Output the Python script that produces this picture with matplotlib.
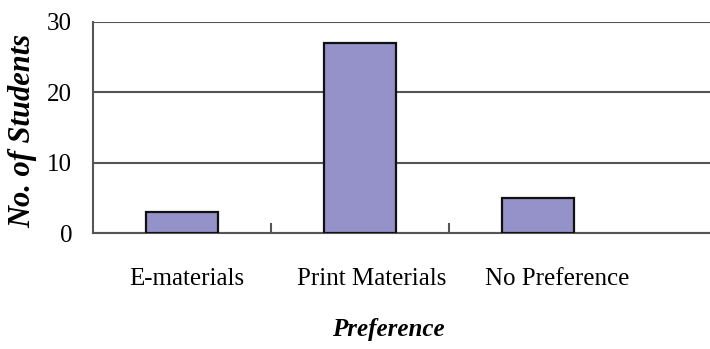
import matplotlib.pyplot as plt
import matplotlib.transforms as mtransforms
import numpy as np

categories = ["E-materials", "Print Materials", "No Preference"]
students = [3, 27, 5]
y_ticks = [0, 10, 20, 30]

plt.rcParams['font.family'] = ['Liberation Serif', 'DejaVu Serif']

fig = plt.figure(figsize=(7.1, 3.49), dpi=100)
ax = fig.add_axes([0.131, 0.332, 0.869, 0.605])

x = np.arange(len(categories))
ax.bar(x, students, width=0.4, color='#9592c9', edgecolor='#111111',
       linewidth=1.6, zorder=3)

ax.set_ylim(0, 30)
ax.set_xlim(-0.5, 2.966)
ax.set_yticks(y_ticks)
ax.yaxis.grid(True, color='#555555', linewidth=1.5)
ax.set_axisbelow(True)

for side in ['top', 'right']:
    ax.spines[side].set_visible(False)
for side in ['left', 'bottom']:
    ax.spines[side].set_color('#555555')
    ax.spines[side].set_linewidth(1.5)

ax.set_xticks(x)
ax.set_xticklabels(categories, fontsize=18)
ax.set_xticks([0.5, 1.5], minor=True)
ax.tick_params(axis='x', which='major', length=0, pad=25)
ax.tick_params(axis='x', which='minor', direction='in', length=7,
               width=1.5, color='#555555')
ax.tick_params(axis='y', length=0, pad=15, labelsize=18)

# nudge the category labels a little to the right
for lbl, dx in zip(ax.get_xticklabels(), [5, 12, 19]):
    lbl.set_transform(lbl.get_transform() +
                      mtransforms.ScaledTranslation(dx / 100, 0, fig.dpi_scale_trans))

ax.set_ylabel('No. of Students', fontsize=22, style='italic',
              fontweight='bold')
ax.yaxis.set_label_coords(-0.09, 0.483)
ax.set_xlabel('Preference', fontsize=18, style='italic', fontweight='bold')
ax.xaxis.set_label_coords(0.478, -0.4)

fig.savefig('out.png', dpi=100)
